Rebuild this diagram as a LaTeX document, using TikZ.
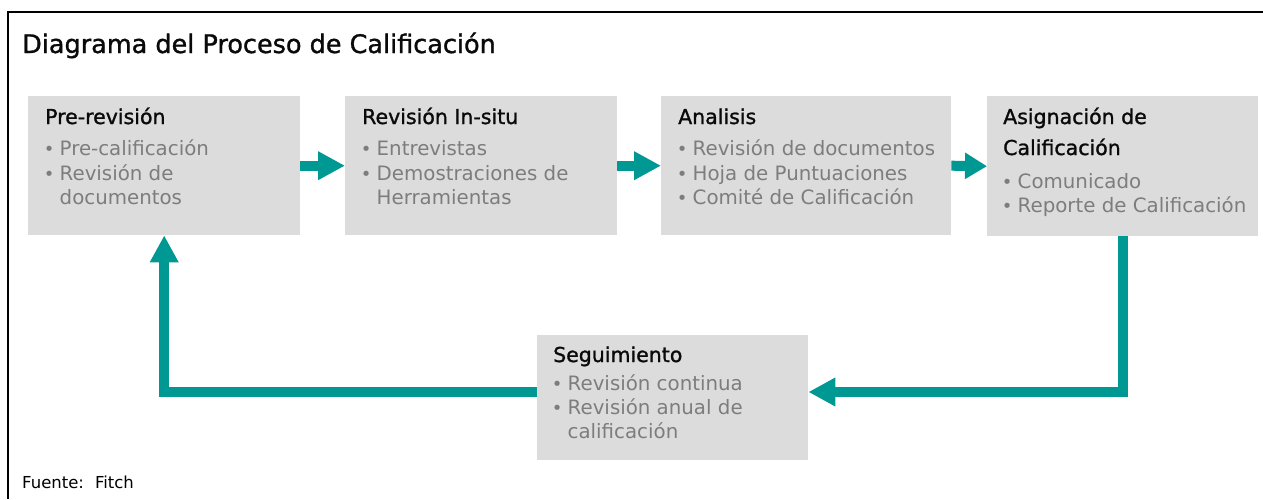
\documentclass[tikz,border=0pt]{standalone}
\usepackage{fontspec}
\setmainfont{DejaVu Sans}
\newfontfamily\semibfont[FakeBold=1.2]{DejaVu Sans}
\usetikzlibrary{arrows.meta}
\definecolor{flowc}{RGB}{0,152,147}
\definecolor{boxgray}{RGB}{220,220,220}
\definecolor{bulgray}{RGB}{125,125,125}
\definecolor{headc}{RGB}{10,10,10}
\newcommand{\bul}{\makebox[13.5pt][l]{\hspace{-2.3pt}\raisebox{-0.5pt}{\fontsize{18}{18}\selectfont •}}}
\begin{document}
\begin{tikzpicture}[x=1pt,y=-1pt,
  box/.style={fill=boxgray, draw=none, inner sep=0pt, anchor=north west},
  hd/.style={anchor=base west, inner sep=0pt, text=headc, font=\semibfont\fontsize{20.5}{24}\selectfont},
  bl/.style={anchor=base west, inner sep=0pt, text=bulgray, font=\fontsize{19.8}{24}\selectfont},
  flow/.style={draw=flowc, line width=10pt, -{Triangle[width=27pt,length=27pt]}},
  frame/.style={draw=black, line width=2pt}
]
\useasboundingbox (0,0) rectangle (1263,499);
\fill[white] (0,0) rectangle (1263,499);
\draw[frame] (7.5,499) -- (7.5,12) -- (1263,12);

\node[anchor=base west, inner sep=0pt, text=headc, font=\semibfont\fontsize{25.5}{30}\selectfont] (title) at (22,53) {Diagrama del Proceso de Calificación};

% boxes
\node[box, minimum width=272pt, minimum height=139pt] (b1) at (28,96) {};
\node[box, minimum width=272pt, minimum height=139pt] (b2) at (345,96) {};
\node[box, minimum width=290pt, minimum height=139pt] (b3) at (661,96) {};
\node[box, minimum width=271pt, minimum height=140pt] (b4) at (987,96) {};
\node[box, minimum width=271pt, minimum height=125pt] (b5) at (537,335) {};

% box 1
\node[hd] (b1h) at ([shift={(17,28)}]b1.north west) {Pre-revisión};
\node[bl] (b1a) at ([shift={(18,59)}]b1.north west) {\bul Pre-calificación};
\node[bl] (b1b) at ([shift={(18,84)}]b1.north west) {\bul Revisión de};
\node[bl] (b1c) at ([shift={(31.5,108)}]b1.north west) {documentos};
% box 2
\node[hd] (b2h) at ([shift={(17,28)}]b2.north west) {Revisión In-situ};
\node[bl] (b2a) at ([shift={(18,59)}]b2.north west) {\bul Entrevistas};
\node[bl] (b2b) at ([shift={(18,84)}]b2.north west) {\bul Demostraciones de};
\node[bl] (b2c) at ([shift={(31.5,108)}]b2.north west) {Herramientas};
% box 3
\node[hd] (b3h) at ([shift={(17,28)}]b3.north west) {Analisis};
\node[bl] (b3a) at ([shift={(18,59)}]b3.north west) {\bul Revisión de documentos};
\node[bl] (b3b) at ([shift={(18,84)}]b3.north west) {\bul Hoja de Puntuaciones};
\node[bl] (b3c) at ([shift={(18,108)}]b3.north west) {\bul Comité de Calificación};
% box 4
\node[hd] (b4h) at ([shift={(16,28)}]b4.north west) {Asignación de};
\node[hd] (b4i) at ([shift={(16,59)}]b4.north west) {Calificación};
\node[bl] (b4a) at ([shift={(17,92)}]b4.north west) {\bul Comunicado};
\node[bl] (b4b) at ([shift={(17,116)}]b4.north west) {\bul Reporte de Calificación};
% box 5
\node[hd] (b5h) at ([shift={(16,27)}]b5.north west) {Seguimiento};
\node[bl] (b5a) at ([shift={(17,55)}]b5.north west) {\bul Revisión continua};
\node[bl] (b5b) at ([shift={(17,79)}]b5.north west) {\bul Revisión anual de};
\node[bl] (b5c) at ([shift={(30.5,103)}]b5.north west) {calificación};

% connectors
\coordinate (lv) at (0,392);
\draw[flow] (b1.east) -- (b2.west);
\draw[flow] (b2.east) -- (b3.west);
\draw[flow, -{Triangle[width=25pt,length=22pt]}] (b3.east) -- (b4.west);
\draw[flow] (b4.south) |- (b5.east |- lv);
\draw[flow] (b5.west |- lv) -| (b1.south);

\node[anchor=base west, inner sep=0pt, text=black, font=\fontsize{16.5}{19}\selectfont] (src) at (22,488) {Fuente:\hspace{4pt} Fitch};
\end{tikzpicture}
\end{document}
